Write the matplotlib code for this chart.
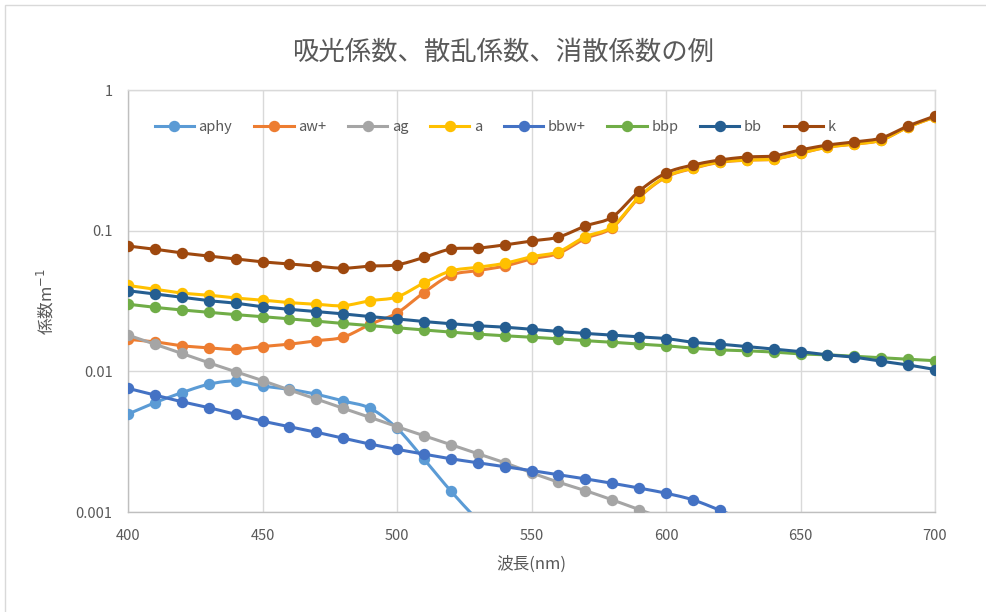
import numpy as np
import matplotlib
matplotlib.use("Agg")
import matplotlib.pyplot as plt
from matplotlib.lines import Line2D
from matplotlib.patches import Rectangle
from matplotlib.ticker import FixedLocator, FixedFormatter, NullLocator

plt.rcParams['font.family'] = ['Noto Sans CJK JP', 'DejaVu Sans']

# wavelength grid (nm)
wavelength = np.arange(400, 701, 10)

# absorption
aphy = [0.00497, 0.00599, 0.00705, 0.00809, 0.00853, 0.00787, 0.00745, 0.00687,
        0.00615, 0.00546, 0.00394, 0.00238, 0.00141, 0.00088, 0.00060, 0.00043,
        0.00031, 0.00024, 0.00019, 0.00016, 0.00014, 0.00013, 0.00012, 0.00011,
        0.00010, 0.00009, 0.00008, 0.00008, 0.00007, 0.00007, 0.00006]
aw = [0.0169, 0.0162, 0.0152, 0.0147, 0.0143, 0.0150, 0.0156, 0.0165, 0.0175,
      0.0216, 0.0260, 0.0363, 0.0482, 0.0520, 0.0560, 0.0630, 0.0690, 0.0880,
      0.1050, 0.1720, 0.2400, 0.2770, 0.3060, 0.3170, 0.3220, 0.3550, 0.3920,
      0.4120, 0.4400, 0.5450, 0.6420]
ag = [0.0181, 0.0156, 0.0134, 0.0115, 0.00995, 0.00859, 0.00737, 0.00636,
      0.00546, 0.00471, 0.00404, 0.00349, 0.00301, 0.00260, 0.00224, 0.00190,
      0.00163, 0.00142, 0.00122, 0.00104, 0.00089, 0.00077, 0.00066, 0.00057,
      0.00049, 0.00042, 0.00036, 0.00031, 0.00027, 0.00023, 0.00020]
a_tot = [0.0408, 0.0383, 0.0360, 0.0348, 0.0332, 0.0321, 0.0308, 0.0300, 0.0293,
         0.0318, 0.0338, 0.0425, 0.0517, 0.0549, 0.0586, 0.0653, 0.0709, 0.0906,
         0.1067, 0.174, 0.242, 0.279, 0.308, 0.318, 0.323, 0.356, 0.393, 0.413,
         0.441, 0.546, 0.643]

# backscattering
bbw = [0.00757, 0.00679, 0.00608, 0.00552, 0.00495, 0.00443, 0.00404, 0.00369,
       0.00334, 0.00304, 0.00279, 0.00258, 0.00239, 0.00224, 0.00210, 0.00197,
       0.00184, 0.00172, 0.00160, 0.00148, 0.00136, 0.00122, 0.00103, 0.00086,
       0.00075, 0.00066, 0.00059, 0.00053, 0.00048, 0.00044, 0.00040]
bbp = [0.0300, 0.0285, 0.0273, 0.0263, 0.0253, 0.0245, 0.0236, 0.0227, 0.0219,
       0.0211, 0.0204, 0.0197, 0.0190, 0.0184, 0.0179, 0.0175, 0.0170, 0.0165,
       0.0161, 0.0156, 0.0152, 0.0146, 0.0142, 0.0140, 0.0137, 0.0133, 0.0131,
       0.0128, 0.0125, 0.0122, 0.0119]
bb = [0.0374, 0.0355, 0.0336, 0.0318, 0.0305, 0.0288, 0.0276, 0.0266, 0.0256,
      0.0245, 0.0236, 0.0226, 0.0218, 0.0211, 0.0206, 0.0199, 0.0192, 0.0186,
      0.0181, 0.0176, 0.0171, 0.0161, 0.0156, 0.0150, 0.0144, 0.0138, 0.0131,
      0.0126, 0.0118, 0.0111, 0.0103]

# attenuation
k = [0.0778, 0.0738, 0.0694, 0.0660, 0.0630, 0.0600, 0.0580, 0.0560, 0.0541,
     0.0560, 0.0572, 0.0645, 0.0740, 0.0752, 0.0792, 0.0845, 0.0900, 0.1080,
     0.1250, 0.1910, 0.2570, 0.2930, 0.3180, 0.3340, 0.3400, 0.3750, 0.4060,
     0.4270, 0.4560, 0.5550, 0.6530]

series_names = ['aphy', 'aw+', 'ag', 'a', 'bbw+', 'bbp', 'bb', 'k']
series_data = [aphy, aw, ag, a_tot, bbw, bbp, bb, k]
colors = ['#5B9BD5', '#ED7D31', '#A5A5A5', '#FFC000',
          '#4472C4', '#70AD47', '#255E91', '#9E480E']

TXT = '#595959'
GRID = '#D9D9D9'
YMIN, YMAX = 0.001, 1


def smooth(x, y, n=16):
    # bezier smoothing through the points, done in (x, log y)
    x = np.asarray(x, float)
    ly = np.log10(np.asarray(y, float))
    P = np.column_stack([x, ly])
    P = np.vstack([P[0], P, P[-1]])
    t = np.linspace(0, 1, n)[:, None]
    out = []
    for i in range(1, len(P) - 2):
        p0, p1, p2, p3 = P[i - 1], P[i], P[i + 1], P[i + 2]
        c1 = p1 + (p2 - p0) / 6.0
        c2 = p2 - (p3 - p1) / 6.0
        seg = ((1 - t) ** 3) * p1 + 3 * ((1 - t) ** 2) * t * c1 \
            + 3 * (1 - t) * t ** 2 * c2 + t ** 3 * p2
        out.append(seg if i == 1 else seg[1:])
    out = np.vstack(out)
    return out[:, 0], 10 ** out[:, 1]


fig = plt.figure(figsize=(9.86, 6.12), dpi=100)
ax = fig.add_axes([128 / 986, 1 - 512 / 612, 807 / 986, 422 / 612])

for i, (name, vals, c) in enumerate(zip(series_names, series_data, colors)):
    sx, sy = smooth(wavelength, vals)
    ax.plot(sx, sy, color=c, lw=2.2, solid_capstyle='round', zorder=3 + i)
    v = np.asarray(vals)
    inside = v >= YMIN  # points below the axis range get no marker
    ax.plot(wavelength[inside], v[inside], ls='none', marker='o', ms=7.2,
            color=c, mec=c, zorder=3 + i)

ax.set_yscale('log')
ax.set_xlim(400, 700)
ax.set_ylim(YMIN, YMAX)
ax.xaxis.set_major_locator(FixedLocator([400, 450, 500, 550, 600, 650, 700]))
ax.yaxis.set_major_locator(FixedLocator([0.001, 0.01, 0.1, 1]))
ax.yaxis.set_major_formatter(FixedFormatter(['0.001', '0.01', '0.1', '1']))
ax.yaxis.set_minor_locator(NullLocator())
ax.tick_params(length=0, labelsize=10.5, labelcolor=TXT)
ax.tick_params(axis='x', pad=12)
ax.tick_params(axis='y', pad=11)
ax.grid(True, color=GRID, lw=1.0, zorder=0)
ax.set_axisbelow(True)
for side in ['top', 'right']:
    ax.spines[side].set_color(GRID)
for side in ['left', 'bottom']:
    ax.spines[side].set_color('#BFBFBF')
for s in ax.spines.values():
    s.set_linewidth(1.0)

ax.set_xlabel('波長(nm)', fontsize=12, color=TXT, labelpad=9)
ax.set_ylabel('係数m$^{-1}$', fontsize=12, color=TXT, labelpad=14)

fig.text(0.5 * (291 + 716) / 986, 1 - 52 / 612, '吸光係数、散乱係数、消散係数の例',
         ha='center', va='center', fontsize=19, color=TXT)

handles = [Line2D([], [], color=c, lw=2.2, marker='o', ms=7.2) for c in colors]
ax.legend(handles, series_names, loc='center', bbox_to_anchor=(0.455, 0.912),
          ncol=8, frameon=False, fontsize=10.5, labelcolor=TXT,
          handlelength=2.7, handletextpad=0.3, columnspacing=1.5)

# chart border
fig.patches.append(Rectangle((5 / 986, -0.05), 1.2, 1 - 5 / 612 + 0.05,
                             transform=fig.transFigure, fill=False,
                             edgecolor=GRID, lw=1.0))

fig.savefig('out.png', dpi=100)
